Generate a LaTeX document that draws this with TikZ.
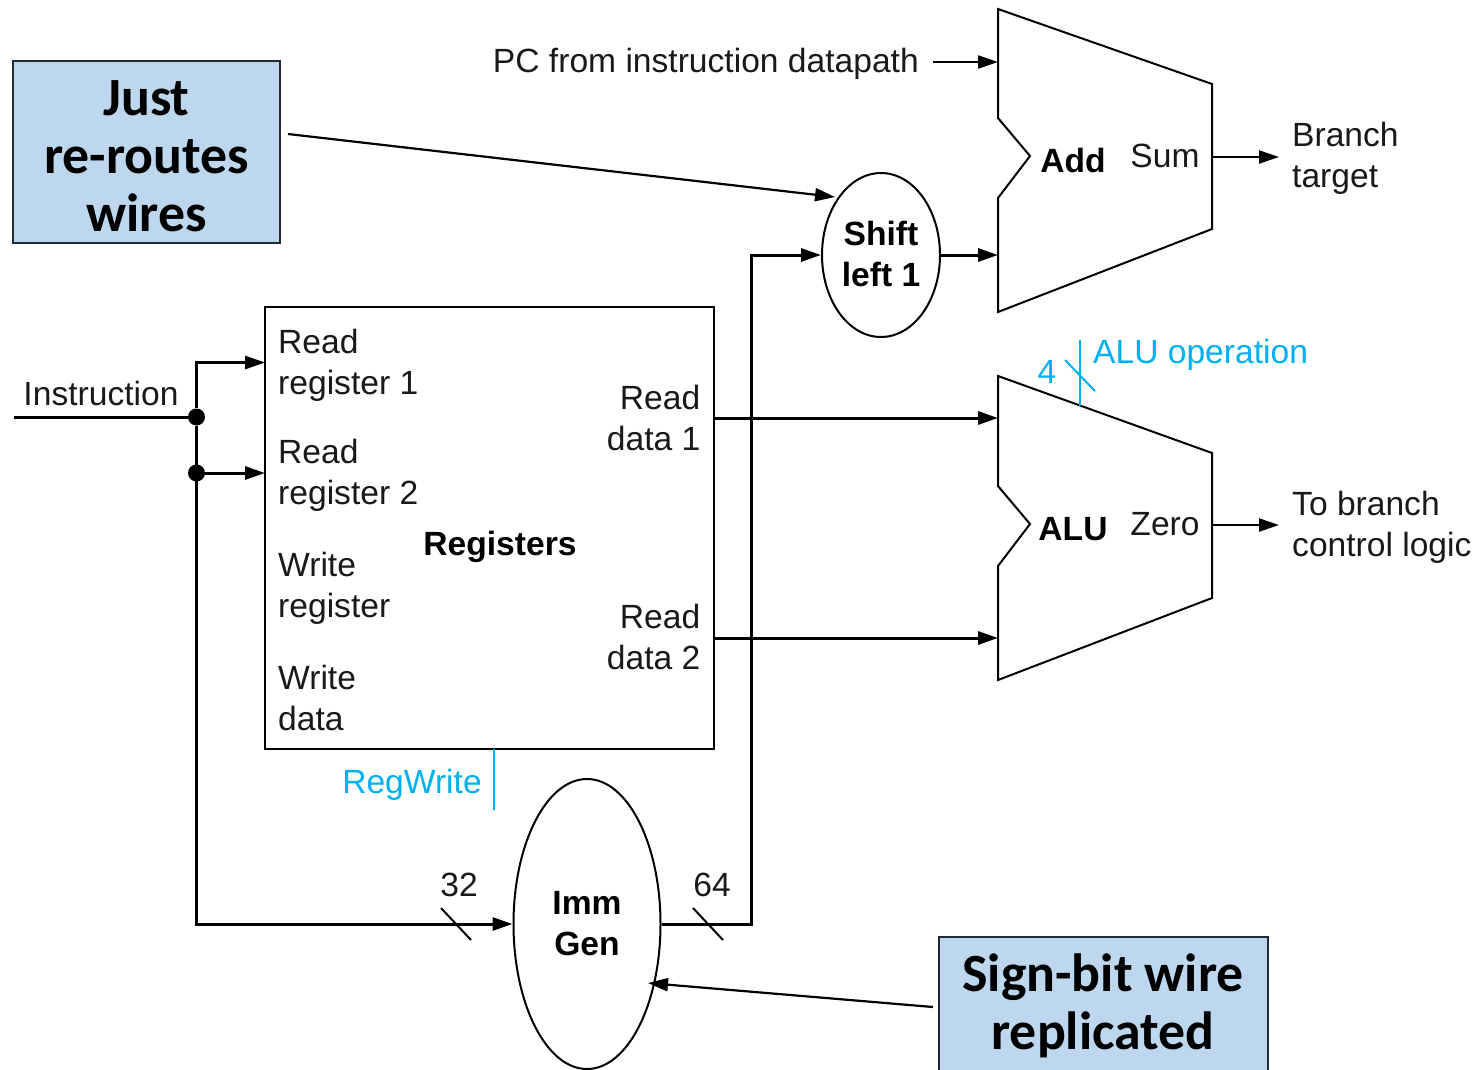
\documentclass[tikz,border=0pt]{standalone}
\usepackage{fontspec}
\setmainfont{Liberation Sans}
\newfontfamily\callfont{Carlito}
\usetikzlibrary{arrows.meta,shapes.geometric}
\definecolor{cyanlab}{HTML}{00B0F0}
\definecolor{callblue}{HTML}{BDD7EE}
\definecolor{callline}{HTML}{1F2A36}
\tikzset{
  x=1pt,y=-1pt,
  lab/.style={inner sep=0pt,font=\fontsize{33.6}{41}\selectfont,text=black!90},
  lableft/.style={lab,align=left,anchor=west},
  labright/.style={lab,align=right,anchor=east},
  labbold/.style={lab,font=\fontsize{33.6}{41}\selectfont\bfseries,align=center,text=black},
  labcyan/.style={lab,text=cyanlab},
  wire/.style={line width=3pt,-{Triangle[length=20pt,width=13pt]}},
  plainwire/.style={line width=3pt},
  thinwire/.style={line width=2.2pt,-{Triangle[length=20pt,width=13pt]}},
  outline/.style={draw=black,line width=2pt,fill=white},
  tick/.style={line width=2pt},
  cyanline/.style={draw=cyanlab,line width=2.6pt},
  dotjoin/.style={circle,fill=black,inner sep=0pt,minimum size=17pt},
  callout/.style={draw=callline,line width=2.6pt,fill=callblue,inner sep=0pt},
  calltext/.style={inner sep=0pt,align=center,
    font=\callfont\fontsize{53.8}{58}\selectfont\bfseries,text=black},
  oval/.style={ellipse,outline,inner sep=0pt}
}
\begin{document}
\begin{tikzpicture}
\useasboundingbox (0,0) rectangle (1480,1069);
% Add / ALU outlines
\coordinate (a1) at (998,9); \coordinate (a2) at (1212,84); \coordinate (a3) at (1212,229);
\coordinate (a4) at (998,312); \coordinate (a5) at (998,198); \coordinate (a6) at (1030,156); \coordinate (a7) at (998,118);
\draw[outline,line join=miter] (a1)--(a2)--(a3)--(a4)--(a5)--(a6)--(a7)--cycle;
\coordinate (b1) at (998,376); \coordinate (b2) at (1212,453); \coordinate (b3) at (1212,598);
\coordinate (b4) at (998,680); \coordinate (b5) at (998,566); \coordinate (b6) at (1030,524); \coordinate (b7) at (998,486);
\draw[outline,line join=miter] (b1)--(b2)--(b3)--(b4)--(b5)--(b6)--(b7)--cycle;
% Registers and ovals
\node[outline,rectangle,inner sep=0pt,minimum width=449pt,minimum height=442pt] (regs) at (489.5,528) {};
\node[oval,minimum width=118pt,minimum height=164pt] (shift) at (881,255) {};
\node[labbold] (shifttext) at (881,254) {Shift\\left 1};
\node[oval,minimum width=147pt,minimum height=290pt,labbold] (imm) at (587,924) {Imm\\Gen};
% Callouts
\node[callout,minimum width=267pt,minimum height=182pt] (just) at (146.5,152) {};
\node[calltext] (justtext) at (146.5,156) {Just\\re-routes\\wires};
\node[callout,minimum width=329pt,minimum height=140pt,anchor=north west] (sign) at (937.5,935.5) {};
\node[calltext] (signtext) at (1103,1006) {Sign-bit wire\\replicated};
% Register labels
\node[lableft] (rr1) at (278,365) {Read\\register 1};
\node[lableft] (rr2) at (278,475) {Read\\register 2};
\node[lableft] (wr) at (278,588) {Write\\register};
\node[lableft] (wd) at (278,698) {Write\\data};
\node[labright] (rd1) at (700.5,418) {Read\\data 1};
\node[labright] (rd2) at (700.5,637) {Read\\data 2};
\node[labbold] (regname) at (500,547) {Registers};
% Other labels
\node[lab] (instr) at (101,393) {Instruction};
\node[labright] (pc) at (919,64) {PC from instruction datapath};
\node[labbold] (addname) at (1073,160) {Add};
\node[lab] (sum) at (1165,156) {Sum};
\node[labbold] (aluname) at (1073,529) {ALU};
\node[lab] (zero) at (1165,524) {Zero};
\node[lableft] (btarget) at (1292,158) {Branch\\target};
\node[lableft] (tobranch) at (1292,527) {To branch\\control logic};
\node[labcyan,anchor=west] (aluop) at (1093,355) {ALU operation};
\node[labcyan] (four) at (1047,372) {4};
\node[labcyan] (regwrite) at (412,785) {RegWrite};
\node[lab] (w32) at (459,885) {32};
\node[lab] (w64) at (712,885) {64};
% Junctions and free ends
\node[dotjoin] (j1) at (196.5,417) {};
\node[dotjoin] (j2) at (196.5,473) {};
\coordinate (instart) at (14,417);
\coordinate (jtop) at (196.5,362.5);
\coordinate (jbot) at (196.5,924);
\coordinate (rrin1) at (265,362.5);
\coordinate (rrin2) at (265,473);
\coordinate (bend1) at (751,924);
\coordinate (bend2) at (751,255);
\coordinate (alu1) at (998,418);
\coordinate (alu2) at (998,638);
\coordinate (rdo1) at (714,418);
\coordinate (rdo2) at (714,638);
\coordinate (addin) at (998,255);
\coordinate (pcs) at (933,62);
\coordinate (pce) at (998,62);
\coordinate (sumo) at (1212,157);
\coordinate (sume) at (1279,157);
\coordinate (zeroo) at (1212,525);
\coordinate (zeroe) at (1279,525);
\coordinate (js) at (288,134);
\coordinate (je) at (835,197);
\coordinate (ss) at (933,1007);
\coordinate (se) at (648,983);
% Wires
\draw[plainwire] (instart) -- (j1);
\draw[wire] (j1) -- (jtop) -- (rrin1);
\draw[wire] (j2) -- (rrin2);
\draw[wire] (j1) -- (jbot) -- (imm.west);
\draw[wire] (imm.east) -- (bend1) -- (bend2) -- (shift.west);
\draw[wire] (shift.east) -- (addin);
\draw[wire] (rdo1) -- (alu1);
\draw[wire] (rdo2) -- (alu2);
\draw[thinwire] (pcs) -- (pce);
\draw[thinwire] (sumo) -- (sume);
\draw[thinwire] (zeroo) -- (zeroe);
\draw[thinwire] (js) -- (je);
\draw[thinwire] (ss) -- (se);
% Bus ticks
\coordinate (t1a) at (441,908); \coordinate (t1b) at (471,940);
\coordinate (t2a) at (693,908); \coordinate (t2b) at (723,940);
\draw[tick] (t1a) -- (t1b);
\draw[tick] (t2a) -- (t2b);
% Control signals
\coordinate (c1a) at (1080,340); \coordinate (c1b) at (1080,406);
\coordinate (c2a) at (1065,360); \coordinate (c2b) at (1095,391);
\coordinate (c3a) at (494,749); \coordinate (c3b) at (494,810);
\draw[cyanline] (c1a) -- (c1b);
\draw[cyanline,line width=2pt] (c2a) -- (c2b);
\draw[cyanline] (c3a) -- (c3b);
\end{tikzpicture}
\end{document}
